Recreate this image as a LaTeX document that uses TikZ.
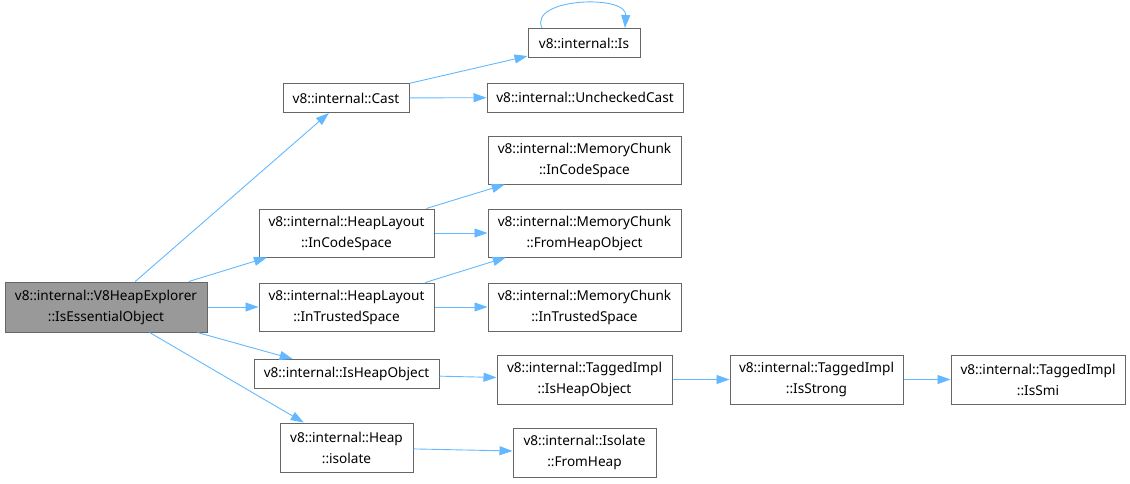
\documentclass[tikz,border=0pt]{standalone}
\usepackage{fontspec}
\setmainfont{Noto Sans}
\usetikzlibrary{arrows.meta}
\definecolor{edgeblue}{HTML}{63B8FF}
\definecolor{bordergray}{HTML}{666666}
\definecolor{mainfill}{HTML}{999999}
\begin{document}
\begin{tikzpicture}[x=1pt,y=-1pt,
  box/.style={draw=bordergray,line width=1pt,rectangle,inner sep=0pt,align=center,
    font=\fontsize{13.6}{21}\selectfont,text=black},
  edge/.style={draw=edgeblue,line width=0.9pt,-{Triangle[length=13pt,width=9pt]}}]
\useasboundingbox (0,0) rectangle (1130,483);
\node[box,fill=mainfill,minimum width=202pt,minimum height=50pt] (main) at (106,307) {v8::internal::V8HeapExplorer\\::IsEssentialObject};
\node[box,minimum width=126pt,minimum height=29pt] (cast) at (346,98) {v8::internal::Cast};
\node[box,minimum width=112pt,minimum height=29pt] (is) at (584,43) {v8::internal::Is};
\node[box,minimum width=196pt,minimum height=29pt] (unch) at (585,97.5) {v8::internal::UncheckedCast};
\node[box,minimum width=193pt,minimum height=48pt] (mccode) at (584.5,160) {v8::internal::MemoryChunk\\::InCodeSpace};
\node[box,minimum width=175pt,minimum height=48pt] (hlcode) at (346.5,233) {v8::internal::HeapLayout\\::InCodeSpace};
\node[box,minimum width=193pt,minimum height=48pt] (mcfrom) at (584.5,233) {v8::internal::MemoryChunk\\::FromHeapObject};
\node[box,minimum width=175pt,minimum height=48pt] (hltrust) at (346.5,307) {v8::internal::HeapLayout\\::InTrustedSpace};
\node[box,minimum width=193pt,minimum height=48pt] (mctrust) at (584.5,307) {v8::internal::MemoryChunk\\::InTrustedSpace};
\node[box,minimum width=185pt,minimum height=29pt] (isho) at (346.5,374) {v8::internal::IsHeapObject};
\node[box,minimum width=175pt,minimum height=49pt] (tiho) at (584.5,379.5) {v8::internal::TaggedImpl\\::IsHeapObject};
\node[box,minimum width=173pt,minimum height=49pt] (tistrong) at (816.5,379.5) {v8::internal::TaggedImpl\\::IsStrong};
\node[box,minimum width=174pt,minimum height=49pt] (tismi) at (1038,379.5) {v8::internal::TaggedImpl\\::IsSmi};
\node[box,minimum width=133pt,minimum height=49pt] (heapiso) at (346.5,447.5) {v8::internal::Heap\\::isolate};
\node[box,minimum width=143pt,minimum height=49pt] (isofrom) at (584.5,452.5) {v8::internal::Isolate\\::FromHeap};

\draw[edge] (main) -- (cast);
\draw[edge] (main) -- (hlcode);
\draw[edge] (main) -- (hltrust);
\draw[edge] (main) -- (isho);
\draw[edge] (main) -- (heapiso);
\draw[edge] (cast) -- (is);
\draw[edge] (cast) -- (unch);
\draw[edge] ([xshift=-42pt]is.north) .. controls +(-14,-30) and +(2,-34) .. ([xshift=41pt]is.north);
\draw[edge] (hlcode) -- (mccode);
\draw[edge] (hlcode) -- (mcfrom);
\draw[edge] (hltrust) -- (mcfrom);
\draw[edge] (hltrust) -- (mctrust);
\draw[edge] (isho) -- (tiho);
\draw[edge] (tiho) -- (tistrong);
\draw[edge] (tistrong) -- (tismi);
\draw[edge] (heapiso) -- (isofrom);
\end{tikzpicture}
\end{document}
